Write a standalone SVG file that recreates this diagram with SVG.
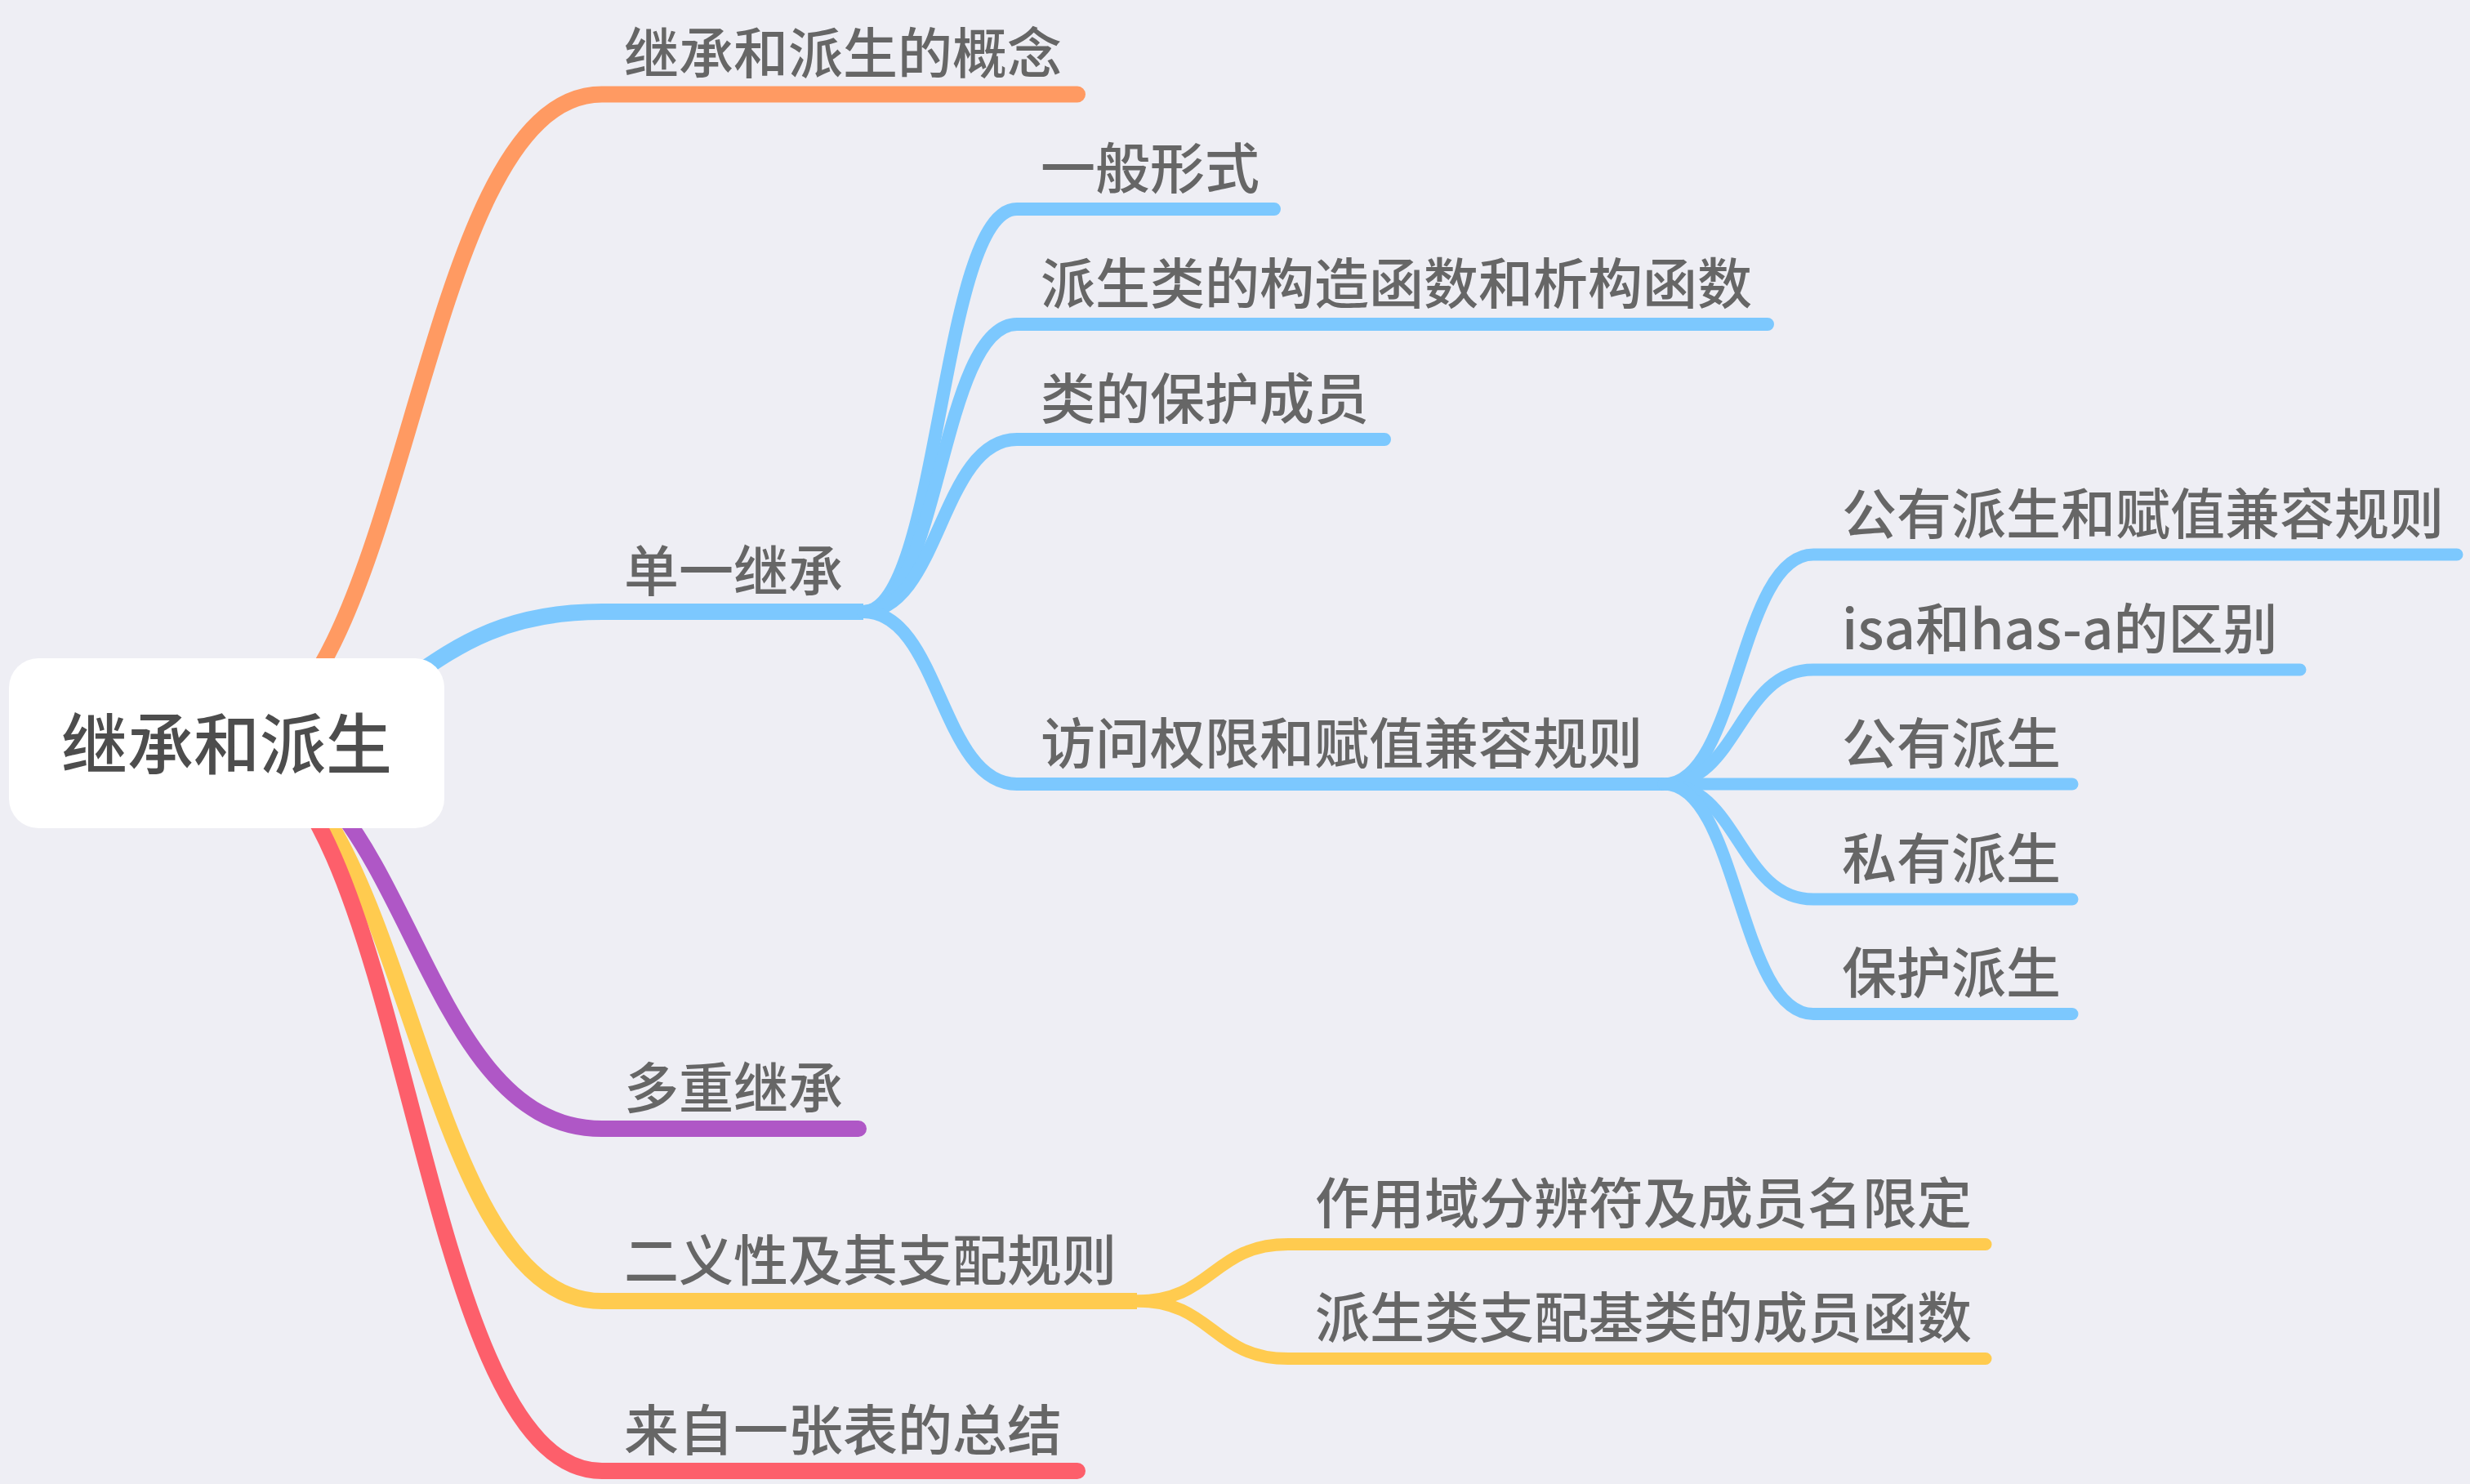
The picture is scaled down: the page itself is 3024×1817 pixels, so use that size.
<svg xmlns="http://www.w3.org/2000/svg" width="3024" height="1817" viewBox="0 0 3024 1817">
<style>
.br{fill:none;stroke-linejoin:round}
.leaf{stroke-linecap:round}
.inner{stroke-linecap:butt}
.l1{stroke-width:20}
.l2{stroke-width:16}
.l3{stroke-width:15}
.orange{stroke:#FF9A62}
.blue{stroke:#7CC8FE}
.purple{stroke:#AF57C6}
.yellow{stroke:#FFCB4F}
.red{stroke:#FD5F6B}
.lbl{font-family:"Noto Sans CJK SC","Noto Sans",sans-serif;font-size:67px;font-weight:500;fill:#666666}
.root{font-family:"Noto Sans CJK SC","Noto Sans",sans-serif;font-size:81px;font-weight:500;fill:#4D4D4D}
</style>
<rect x="0" y="0" width="3024" height="1817" fill="#EEEEF4"/>
<g id="connectors">
  <path class="br leaf l1 orange" d="M270 910 C503.5 910 503.5 115.5 737 115.5 H1319"/>
  <path class="br inner l1 blue" d="M270 910 C503.5 910 503.5 749 737 749 H1057"/>
  <path class="br leaf l1 purple" d="M270 910 C503.5 910 503.5 1382 737 1382 H1051"/>
  <path class="br inner l1 yellow" d="M270 910 C503.5 910 503.5 1593 737 1593 H1392"/>
  <path class="br leaf l1 red" d="M270 910 C503.5 910 503.5 1801 737 1801 H1319"/>
  <path class="br leaf l2 blue" d="M1057 749 C1151 749 1151 256 1245 256 H1560"/>
  <path class="br leaf l2 blue" d="M1057 749 C1151 749 1151 397 1245 397 H2164"/>
  <path class="br leaf l2 blue" d="M1057 749 C1151 749 1151 538 1245 538 H1695"/>
  <path class="br inner l2 blue" d="M1057 749 C1151 749 1151 960 1245 960 H2037"/>
  <path class="br leaf l3 blue" d="M2037 960 C2128.5 960 2128.5 679 2220 679 H3008"/>
  <path class="br leaf l3 blue" d="M2037 960 C2128.5 960 2128.5 820 2220 820 H2816"/>
  <path class="br leaf l3 blue" d="M2037 960 H2537"/>
  <path class="br leaf l3 blue" d="M2037 960 C2128.5 960 2128.5 1101 2220 1101 H2537"/>
  <path class="br leaf l3 blue" d="M2037 960 C2128.5 960 2128.5 1241.5 2220 1241.5 H2537"/>
  <path class="br leaf l3 yellow" d="M1392 1593 C1484.5 1593 1484.5 1523.5 1577 1523.5 H2431"/>
  <path class="br leaf l3 yellow" d="M1392 1593 C1484.5 1593 1484.5 1663.5 1577 1663.5 H2431"/>
</g>
<g id="root">
  <rect x="11" y="806" width="533" height="208" rx="36" ry="36" fill="#FFFFFF"/>
  <text class="root" x="277.5" y="941" text-anchor="middle">继承和派生</text>
</g>
<g id="n-concept"><text class="lbl" x="764" y="90">继承和派生的概念</text></g>
<g id="n-single"><text class="lbl" x="764" y="724">单一继承</text></g>
<g id="n-multi"><text class="lbl" x="764" y="1357">多重继承</text></g>
<g id="n-ambig"><text class="lbl" x="764" y="1568">二义性及其支配规则</text></g>
<g id="n-table"><text class="lbl" x="764" y="1776">来自一张表的总结</text></g>
<g id="n-form"><text class="lbl" x="1274" y="231">一般形式</text></g>
<g id="n-ctor"><text class="lbl" x="1274" y="372">派生类的构造函数和析构函数</text></g>
<g id="n-protected"><text class="lbl" x="1274" y="513">类的保护成员</text></g>
<g id="n-access"><text class="lbl" x="1274" y="935">访问权限和赋值兼容规则</text></g>
<g id="n-pubcompat"><text class="lbl" x="2255" y="654">公有派生和赋值兼容规则</text></g>
<g id="n-isa"><text class="lbl" x="2255" y="795">isa和has-a的区别</text></g>
<g id="n-public"><text class="lbl" x="2255" y="935">公有派生</text></g>
<g id="n-private"><text class="lbl" x="2255" y="1076">私有派生</text></g>
<g id="n-protderiv"><text class="lbl" x="2255" y="1216">保护派生</text></g>
<g id="n-scope"><text class="lbl" x="1610" y="1498">作用域分辨符及成员名限定</text></g>
<g id="n-dominate"><text class="lbl" x="1610" y="1638">派生类支配基类的成员函数</text></g>
</svg>
